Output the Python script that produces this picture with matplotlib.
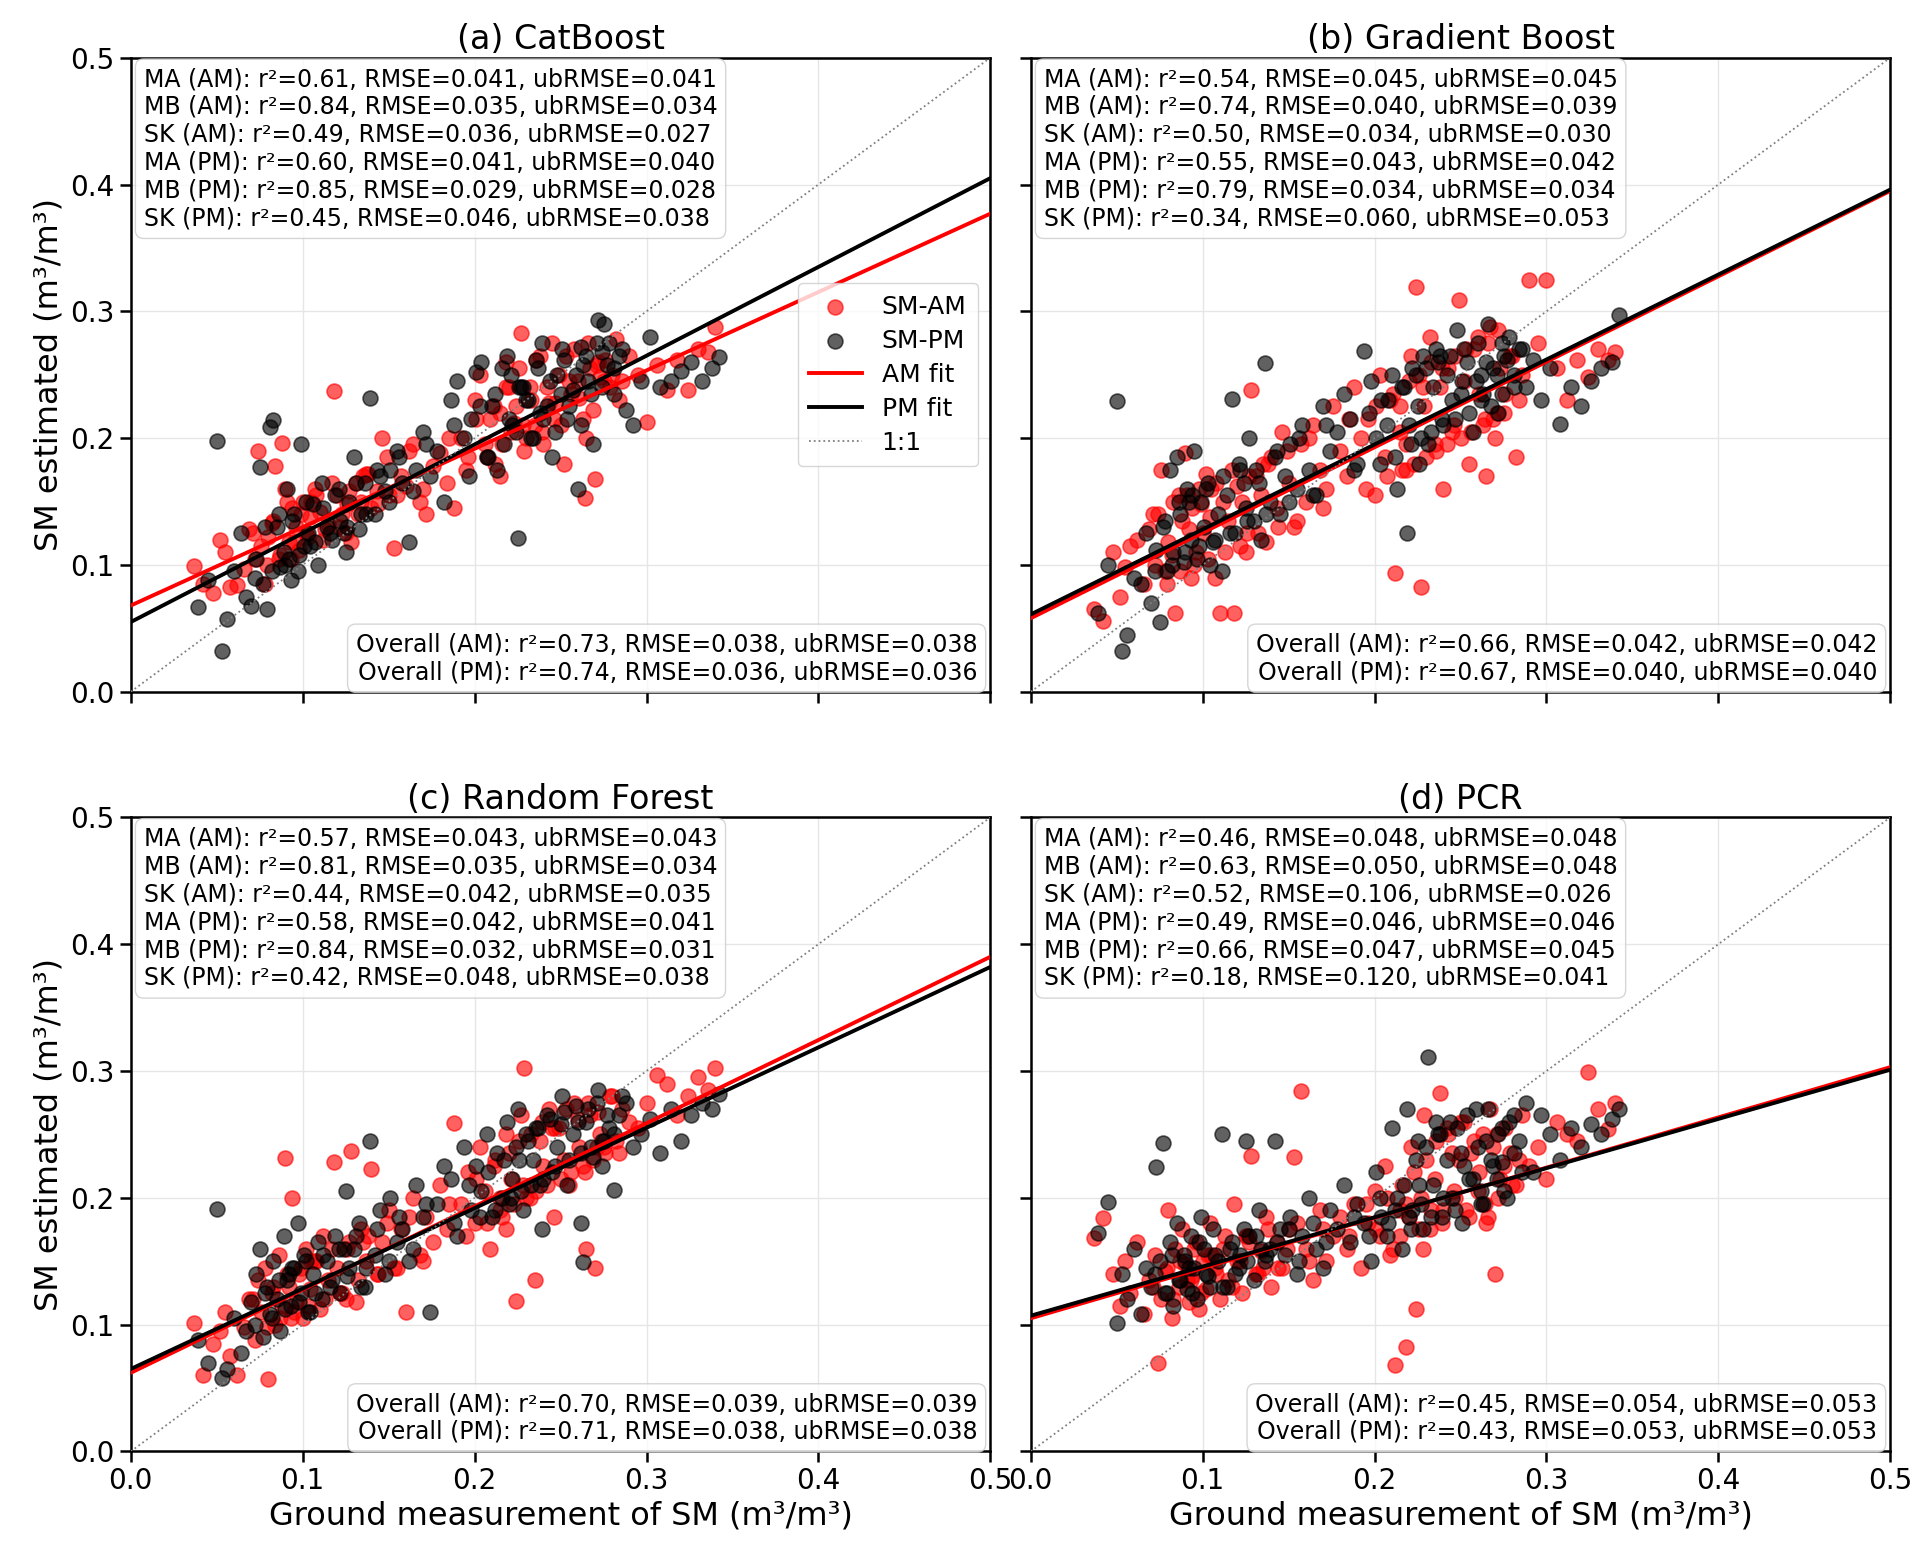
import numpy as np
import matplotlib.pyplot as plt

# ground measurement of SM (same stations for every model)
x_am = [
    0.037, 0.042, 0.048, 0.052, 0.055, 0.058, 0.062, 0.066, 0.069, 0.072,
    0.074, 0.076, 0.078, 0.080, 0.082, 0.084, 0.086, 0.088, 0.090, 0.092,
    0.094, 0.096, 0.098, 0.100, 0.102, 0.104, 0.107, 0.110, 0.112, 0.115,
    0.118, 0.120, 0.123, 0.126, 0.128, 0.131, 0.134, 0.137, 0.140, 0.143,
    0.146, 0.150, 0.153, 0.157, 0.160, 0.164, 0.168, 0.172, 0.176, 0.180,
    0.184, 0.188, 0.192, 0.196, 0.200, 0.203, 0.206, 0.209, 0.212, 0.215,
    0.218, 0.221, 0.224, 0.227, 0.229, 0.232, 0.235, 0.238, 0.240, 0.243,
    0.246, 0.249, 0.252, 0.255, 0.258, 0.261, 0.264, 0.267, 0.270, 0.273,
    0.276, 0.279, 0.282, 0.286, 0.290, 0.295, 0.300, 0.306, 0.312, 0.318,
    0.324, 0.330, 0.336, 0.340, 0.215, 0.218, 0.228, 0.245, 0.265, 0.271,
    0.071, 0.079, 0.083, 0.087, 0.091, 0.095, 0.099, 0.103, 0.108, 0.113,
    0.117, 0.122, 0.127, 0.132, 0.138, 0.144, 0.149, 0.155, 0.162, 0.170,
    0.185, 0.195, 0.201, 0.207, 0.211, 0.216, 0.220, 0.223, 0.226, 0.230,
    0.233, 0.236, 0.239, 0.242, 0.247, 0.250, 0.253, 0.256, 0.260, 0.263,
    0.266, 0.269, 0.272, 0.275, 0.280, 0.284, 0.093, 0.105, 0.125, 0.135]
x_pm = [
    0.039, 0.045, 0.050, 0.053, 0.056, 0.060, 0.064, 0.067, 0.070, 0.073,
    0.075, 0.077, 0.079, 0.081, 0.083, 0.085, 0.087, 0.089, 0.091, 0.093,
    0.095, 0.097, 0.099, 0.101, 0.103, 0.106, 0.109, 0.111, 0.114, 0.117,
    0.119, 0.122, 0.125, 0.127, 0.130, 0.133, 0.136, 0.139, 0.142, 0.145,
    0.148, 0.151, 0.155, 0.158, 0.162, 0.166, 0.170, 0.174, 0.178, 0.182,
    0.186, 0.190, 0.194, 0.198, 0.201, 0.204, 0.207, 0.210, 0.213, 0.216,
    0.219, 0.222, 0.225, 0.228, 0.231, 0.234, 0.236, 0.239, 0.242, 0.245,
    0.248, 0.251, 0.254, 0.257, 0.260, 0.263, 0.266, 0.269, 0.272, 0.275,
    0.278, 0.281, 0.284, 0.288, 0.292, 0.297, 0.302, 0.308, 0.314, 0.320,
    0.326, 0.332, 0.338, 0.342, 0.220, 0.226, 0.238, 0.250, 0.262, 0.274,
    0.072, 0.078, 0.082, 0.086, 0.090, 0.094, 0.098, 0.102, 0.107, 0.112,
    0.116, 0.121, 0.126, 0.131, 0.137, 0.143, 0.150, 0.156, 0.164, 0.172,
    0.188, 0.197, 0.203, 0.208, 0.212, 0.217, 0.221, 0.224, 0.227, 0.230,
    0.233, 0.237, 0.240, 0.244, 0.247, 0.252, 0.255, 0.259, 0.262, 0.265,
    0.268, 0.271, 0.274, 0.277, 0.281, 0.286, 0.092, 0.104, 0.124, 0.134]

# estimated SM, one array per model and overpass
cat_am = [
    0.099, 0.085, 0.078, 0.120, 0.110, 0.083, 0.084, 0.097, 0.128, 0.105,
    0.190, 0.115, 0.085, 0.122, 0.133, 0.178, 0.105, 0.196, 0.160, 0.118,
    0.145, 0.130, 0.112, 0.150, 0.125, 0.138, 0.160, 0.142, 0.120, 0.132,
    0.237, 0.155, 0.140, 0.148, 0.118, 0.165, 0.150, 0.172, 0.145, 0.158,
    0.200, 0.155, 0.113, 0.170, 0.162, 0.195, 0.150, 0.140, 0.178, 0.188,
    0.165, 0.145, 0.200, 0.185, 0.230, 0.250, 0.195, 0.215, 0.180, 0.170,
    0.260, 0.205, 0.225, 0.283, 0.190, 0.240, 0.210, 0.265, 0.195, 0.228,
    0.215, 0.250, 0.180, 0.245, 0.270, 0.232, 0.153, 0.255, 0.168, 0.248,
    0.262, 0.240, 0.278, 0.245, 0.265, 0.250, 0.213, 0.258, 0.238, 0.262,
    0.238, 0.270, 0.268, 0.288, 0.220, 0.240, 0.210, 0.275, 0.200, 0.258,
    0.125, 0.100, 0.135, 0.108, 0.150, 0.118, 0.140, 0.122, 0.155, 0.128,
    0.165, 0.130, 0.158, 0.140, 0.172, 0.148, 0.185, 0.155, 0.190, 0.160,
    0.200, 0.175, 0.215, 0.185, 0.225, 0.195, 0.240, 0.212, 0.255, 0.200,
    0.230, 0.262, 0.205, 0.240, 0.228, 0.210, 0.265, 0.235, 0.245, 0.215,
    0.275, 0.222, 0.260, 0.245, 0.250, 0.230, 0.105, 0.150, 0.125, 0.170]
cat_pm = [
    0.067, 0.088, 0.198, 0.032, 0.057, 0.095, 0.125, 0.075, 0.068, 0.105,
    0.177, 0.085, 0.065, 0.209, 0.214, 0.130, 0.098, 0.110, 0.160, 0.088,
    0.140, 0.095, 0.195, 0.115, 0.125, 0.148, 0.100, 0.165, 0.130, 0.120,
    0.155, 0.135, 0.110, 0.150, 0.185, 0.128, 0.165, 0.232, 0.140, 0.170,
    0.158, 0.175, 0.190, 0.165, 0.118, 0.175, 0.205, 0.170, 0.190, 0.150,
    0.230, 0.245, 0.200, 0.215, 0.252, 0.260, 0.185, 0.225, 0.175, 0.255,
    0.265, 0.210, 0.121, 0.240, 0.230, 0.200, 0.262, 0.275, 0.225, 0.185,
    0.250, 0.270, 0.215, 0.238, 0.160, 0.258, 0.245, 0.195, 0.293, 0.290,
    0.275, 0.255, 0.265, 0.222, 0.210, 0.245, 0.280, 0.240, 0.245, 0.253,
    0.260, 0.245, 0.255, 0.264, 0.215, 0.240, 0.220, 0.235, 0.272, 0.268,
    0.090, 0.130, 0.095, 0.140, 0.100, 0.135, 0.108, 0.150, 0.118, 0.145,
    0.125, 0.160, 0.130, 0.165, 0.140, 0.175, 0.150, 0.185, 0.158, 0.195,
    0.210, 0.170, 0.225, 0.185, 0.235, 0.195, 0.250, 0.205, 0.240, 0.230,
    0.200, 0.255, 0.215, 0.245, 0.205, 0.262, 0.225, 0.250, 0.210, 0.265,
    0.235, 0.275, 0.240, 0.258, 0.235, 0.270, 0.105, 0.115, 0.125, 0.140]
gb_am = [
    0.065, 0.056, 0.110, 0.075, 0.098, 0.115, 0.120, 0.085, 0.128, 0.100,
    0.140, 0.175, 0.095, 0.118, 0.108, 0.062, 0.155, 0.135, 0.188, 0.128,
    0.145, 0.110, 0.160, 0.125, 0.172, 0.138, 0.090, 0.062, 0.150, 0.135,
    0.062, 0.162, 0.150, 0.125, 0.238, 0.170, 0.155, 0.118, 0.185, 0.145,
    0.205, 0.165, 0.130, 0.195, 0.150, 0.210, 0.175, 0.160, 0.225, 0.190,
    0.170, 0.240, 0.200, 0.215, 0.155, 0.250, 0.185, 0.230, 0.094, 0.205,
    0.175, 0.265, 0.319, 0.083, 0.225, 0.280, 0.195, 0.240, 0.160, 0.255,
    0.210, 0.309, 0.245, 0.180, 0.270, 0.235, 0.215, 0.288, 0.200, 0.255,
    0.235, 0.265, 0.185, 0.250, 0.325, 0.275, 0.325, 0.255, 0.230, 0.262,
    0.248, 0.270, 0.262, 0.268, 0.225, 0.195, 0.240, 0.205, 0.170, 0.220,
    0.140, 0.085, 0.150, 0.095, 0.155, 0.100, 0.148, 0.105, 0.165, 0.110,
    0.175, 0.115, 0.170, 0.125, 0.180, 0.130, 0.190, 0.135, 0.200, 0.145,
    0.215, 0.160, 0.225, 0.170, 0.235, 0.175, 0.245, 0.180, 0.250, 0.185,
    0.260, 0.190, 0.255, 0.195, 0.265, 0.200, 0.270, 0.205, 0.280, 0.210,
    0.275, 0.215, 0.285, 0.220, 0.265, 0.230, 0.090, 0.160, 0.110, 0.180]
gb_pm = [
    0.062, 0.100, 0.229, 0.032, 0.045, 0.090, 0.085, 0.125, 0.070, 0.112,
    0.055, 0.130, 0.095, 0.175, 0.110, 0.185, 0.140, 0.102, 0.160, 0.120,
    0.190, 0.105, 0.150, 0.130, 0.165, 0.118, 0.140, 0.095, 0.155, 0.231,
    0.125, 0.175, 0.145, 0.200, 0.135, 0.165, 0.259, 0.150, 0.185, 0.140,
    0.170, 0.195, 0.160, 0.210, 0.175, 0.155, 0.225, 0.190, 0.205, 0.235,
    0.215, 0.180, 0.269, 0.245, 0.200, 0.230, 0.210, 0.250, 0.160, 0.240,
    0.125, 0.255, 0.225, 0.265, 0.195, 0.240, 0.270, 0.215, 0.250, 0.230,
    0.285, 0.245, 0.260, 0.205, 0.275, 0.235, 0.290, 0.255, 0.220, 0.265,
    0.280, 0.250, 0.270, 0.240, 0.262, 0.230, 0.255, 0.211, 0.240, 0.225,
    0.245, 0.255, 0.260, 0.297, 0.210, 0.180, 0.265, 0.235, 0.250, 0.275,
    0.095, 0.135, 0.100, 0.150, 0.110, 0.155, 0.115, 0.160, 0.120, 0.170,
    0.125, 0.180, 0.135, 0.175, 0.140, 0.190, 0.150, 0.200, 0.155, 0.210,
    0.175, 0.220, 0.180, 0.230, 0.185, 0.240, 0.195, 0.250, 0.200, 0.255,
    0.205, 0.260, 0.210, 0.265, 0.215, 0.270, 0.220, 0.245, 0.230, 0.260,
    0.225, 0.250, 0.235, 0.262, 0.240, 0.270, 0.150, 0.100, 0.165, 0.120]
rf_am = [
    0.101, 0.060, 0.085, 0.095, 0.110, 0.075, 0.060, 0.098, 0.120, 0.088,
    0.135, 0.110, 0.145, 0.057, 0.125, 0.100, 0.155, 0.115, 0.231, 0.130,
    0.200, 0.118, 0.140, 0.105, 0.160, 0.128, 0.150, 0.112, 0.170, 0.135,
    0.228, 0.145, 0.125, 0.160, 0.237, 0.118, 0.175, 0.150, 0.223, 0.140,
    0.165, 0.190, 0.145, 0.175, 0.110, 0.200, 0.155, 0.185, 0.165, 0.210,
    0.175, 0.259, 0.195, 0.220, 0.180, 0.240, 0.205, 0.160, 0.230, 0.190,
    0.250, 0.215, 0.119, 0.265, 0.302, 0.200, 0.135, 0.245, 0.225, 0.270,
    0.185, 0.255, 0.230, 0.210, 0.275, 0.240, 0.220, 0.265, 0.145, 0.250,
    0.235, 0.280, 0.245, 0.270, 0.260, 0.255, 0.275, 0.297, 0.290, 0.265,
    0.280, 0.295, 0.285, 0.302, 0.200, 0.175, 0.210, 0.255, 0.160, 0.240,
    0.120, 0.098, 0.130, 0.105, 0.140, 0.110, 0.145, 0.115, 0.150, 0.120,
    0.160, 0.125, 0.165, 0.135, 0.170, 0.140, 0.180, 0.145, 0.185, 0.150,
    0.195, 0.170, 0.215, 0.180, 0.225, 0.185, 0.235, 0.195, 0.245, 0.200,
    0.250, 0.205, 0.260, 0.210, 0.255, 0.215, 0.270, 0.220, 0.262, 0.225,
    0.275, 0.230, 0.268, 0.240, 0.280, 0.235, 0.105, 0.150, 0.120, 0.165]
rf_pm = [
    0.088, 0.070, 0.191, 0.058, 0.065, 0.105, 0.078, 0.095, 0.118, 0.140,
    0.160, 0.090, 0.130, 0.108, 0.150, 0.120, 0.095, 0.170, 0.135, 0.115,
    0.145, 0.180, 0.125, 0.155, 0.110, 0.140, 0.165, 0.120, 0.150, 0.135,
    0.170, 0.125, 0.205, 0.145, 0.160, 0.180, 0.130, 0.245, 0.155, 0.190,
    0.140, 0.200, 0.165, 0.175, 0.150, 0.210, 0.185, 0.110, 0.195, 0.225,
    0.215, 0.170, 0.240, 0.190, 0.225, 0.205, 0.250, 0.185, 0.235, 0.200,
    0.260, 0.215, 0.270, 0.190, 0.245, 0.230, 0.255, 0.175, 0.265, 0.220,
    0.240, 0.280, 0.210, 0.250, 0.260, 0.149, 0.270, 0.232, 0.285, 0.245,
    0.255, 0.206, 0.265, 0.275, 0.240, 0.250, 0.262, 0.235, 0.270, 0.245,
    0.265, 0.275, 0.270, 0.282, 0.195, 0.230, 0.210, 0.258, 0.180, 0.225,
    0.100, 0.125, 0.105, 0.135, 0.112, 0.145, 0.118, 0.150, 0.125, 0.155,
    0.130, 0.160, 0.138, 0.170, 0.145, 0.175, 0.150, 0.185, 0.160, 0.195,
    0.180, 0.210, 0.185, 0.220, 0.190, 0.230, 0.200, 0.240, 0.205, 0.250,
    0.210, 0.255, 0.215, 0.262, 0.225, 0.268, 0.230, 0.272, 0.235, 0.260,
    0.240, 0.275, 0.245, 0.265, 0.250, 0.280, 0.140, 0.110, 0.160, 0.130]
pcr_am = [
    0.168, 0.184, 0.140, 0.115, 0.150, 0.125, 0.165, 0.108, 0.135, 0.155,
    0.070, 0.120, 0.142, 0.190, 0.105, 0.160, 0.130, 0.175, 0.148, 0.118,
    0.138, 0.165, 0.112, 0.150, 0.128, 0.180, 0.145, 0.120, 0.160, 0.135,
    0.195, 0.150, 0.125, 0.170, 0.233, 0.140, 0.158, 0.185, 0.130, 0.165,
    0.145, 0.175, 0.232, 0.284, 0.160, 0.135, 0.190, 0.150, 0.170, 0.185,
    0.160, 0.195, 0.145, 0.180, 0.205, 0.170, 0.225, 0.155, 0.068, 0.190,
    0.082, 0.240, 0.112, 0.200, 0.265, 0.175, 0.215, 0.283, 0.190, 0.250,
    0.205, 0.230, 0.260, 0.185, 0.245, 0.220, 0.195, 0.270, 0.140, 0.215,
    0.255, 0.235, 0.210, 0.265, 0.225, 0.240, 0.215, 0.260, 0.250, 0.245,
    0.299, 0.270, 0.254, 0.275, 0.170, 0.195, 0.160, 0.235, 0.180, 0.250,
    0.130, 0.145, 0.120, 0.150, 0.135, 0.160, 0.125, 0.155, 0.140, 0.170,
    0.130, 0.150, 0.165, 0.140, 0.175, 0.145, 0.160, 0.180, 0.150, 0.175,
    0.170, 0.195, 0.175, 0.200, 0.160, 0.210, 0.185, 0.220, 0.175, 0.230,
    0.190, 0.245, 0.180, 0.255, 0.200, 0.260, 0.190, 0.235, 0.205, 0.250,
    0.185, 0.240, 0.200, 0.225, 0.210, 0.230, 0.135, 0.155, 0.170, 0.145]
pcr_pm = [
    0.172, 0.197, 0.101, 0.140, 0.120, 0.160, 0.108, 0.145, 0.130, 0.224,
    0.150, 0.243, 0.125, 0.165, 0.115, 0.180, 0.135, 0.155, 0.128, 0.170,
    0.145, 0.120, 0.185, 0.160, 0.138, 0.175, 0.150, 0.250, 0.130, 0.165,
    0.140, 0.155, 0.245, 0.170, 0.135, 0.190, 0.150, 0.160, 0.245, 0.175,
    0.155, 0.185, 0.140, 0.170, 0.200, 0.160, 0.145, 0.190, 0.175, 0.210,
    0.165, 0.195, 0.180, 0.150, 0.220, 0.185, 0.170, 0.255, 0.200, 0.160,
    0.270, 0.190, 0.245, 0.175, 0.311, 0.210, 0.260, 0.185, 0.230, 0.200,
    0.255, 0.180, 0.265, 0.215, 0.240, 0.195, 0.270, 0.225, 0.250, 0.205,
    0.260, 0.235, 0.245, 0.275, 0.220, 0.265, 0.250, 0.230, 0.255, 0.240,
    0.258, 0.250, 0.262, 0.270, 0.185, 0.210, 0.250, 0.235, 0.195, 0.228,
    0.140, 0.125, 0.155, 0.135, 0.150, 0.125, 0.165, 0.140, 0.155, 0.130,
    0.160, 0.145, 0.150, 0.170, 0.155, 0.165, 0.175, 0.150, 0.180, 0.165,
    0.185, 0.170, 0.200, 0.180, 0.190, 0.210, 0.175, 0.230, 0.195, 0.240,
    0.185, 0.250, 0.200, 0.260, 0.190, 0.225, 0.215, 0.270, 0.205, 0.245,
    0.230, 0.215, 0.255, 0.200, 0.265, 0.220, 0.145, 0.130, 0.175, 0.160]

# fitted lines, estimated value at x=0 and x=0.5
fit_am = [[0.068, 0.377], [0.058, 0.395], [0.062, 0.390], [0.105, 0.303]]
fit_pm = [[0.055, 0.405], [0.061, 0.396], [0.065, 0.382], [0.107, 0.301]]

titles = ['(a) CatBoost', '(b) Gradient Boost', '(c) Random Forest', '(d) PCR']

site_stats = [
    ['MA (AM): r\u00b2=0.61, RMSE=0.041, ubRMSE=0.041',
     'MB (AM): r\u00b2=0.84, RMSE=0.035, ubRMSE=0.034',
     'SK (AM): r\u00b2=0.49, RMSE=0.036, ubRMSE=0.027',
     'MA (PM): r\u00b2=0.60, RMSE=0.041, ubRMSE=0.040',
     'MB (PM): r\u00b2=0.85, RMSE=0.029, ubRMSE=0.028',
     'SK (PM): r\u00b2=0.45, RMSE=0.046, ubRMSE=0.038'],
    ['MA (AM): r\u00b2=0.54, RMSE=0.045, ubRMSE=0.045',
     'MB (AM): r\u00b2=0.74, RMSE=0.040, ubRMSE=0.039',
     'SK (AM): r\u00b2=0.50, RMSE=0.034, ubRMSE=0.030',
     'MA (PM): r\u00b2=0.55, RMSE=0.043, ubRMSE=0.042',
     'MB (PM): r\u00b2=0.79, RMSE=0.034, ubRMSE=0.034',
     'SK (PM): r\u00b2=0.34, RMSE=0.060, ubRMSE=0.053'],
    ['MA (AM): r\u00b2=0.57, RMSE=0.043, ubRMSE=0.043',
     'MB (AM): r\u00b2=0.81, RMSE=0.035, ubRMSE=0.034',
     'SK (AM): r\u00b2=0.44, RMSE=0.042, ubRMSE=0.035',
     'MA (PM): r\u00b2=0.58, RMSE=0.042, ubRMSE=0.041',
     'MB (PM): r\u00b2=0.84, RMSE=0.032, ubRMSE=0.031',
     'SK (PM): r\u00b2=0.42, RMSE=0.048, ubRMSE=0.038'],
    ['MA (AM): r\u00b2=0.46, RMSE=0.048, ubRMSE=0.048',
     'MB (AM): r\u00b2=0.63, RMSE=0.050, ubRMSE=0.048',
     'SK (AM): r\u00b2=0.52, RMSE=0.106, ubRMSE=0.026',
     'MA (PM): r\u00b2=0.49, RMSE=0.046, ubRMSE=0.046',
     'MB (PM): r\u00b2=0.66, RMSE=0.047, ubRMSE=0.045',
     'SK (PM): r\u00b2=0.18, RMSE=0.120, ubRMSE=0.041'],
]
overall_stats = [
    ['Overall (AM): r\u00b2=0.73, RMSE=0.038, ubRMSE=0.038',
     'Overall (PM): r\u00b2=0.74, RMSE=0.036, ubRMSE=0.036'],
    ['Overall (AM): r\u00b2=0.66, RMSE=0.042, ubRMSE=0.042',
     'Overall (PM): r\u00b2=0.67, RMSE=0.040, ubRMSE=0.040'],
    ['Overall (AM): r\u00b2=0.70, RMSE=0.039, ubRMSE=0.039',
     'Overall (PM): r\u00b2=0.71, RMSE=0.038, ubRMSE=0.038'],
    ['Overall (AM): r\u00b2=0.45, RMSE=0.054, ubRMSE=0.053',
     'Overall (PM): r\u00b2=0.43, RMSE=0.053, ubRMSE=0.053'],
]

est_am = [cat_am, gb_am, rf_am, pcr_am]
est_pm = [cat_pm, gb_pm, rf_pm, pcr_pm]

fig, axes = plt.subplots(2, 2, figsize=(19.23, 15.59), dpi=100,
                         sharex=True, sharey=True)
fig.subplots_adjust(left=0.068, right=0.983, top=0.963, bottom=0.069,
                    wspace=0.047, hspace=0.198)

box = dict(boxstyle='round,pad=0.35', facecolor='white',
           edgecolor='0.8', alpha=0.8)
line_x = [0.0, 0.5]

for i, ax in enumerate(axes.flat):
    ax.scatter(x_am, est_am[i], s=115, c='red', alpha=0.62,
               linewidths=1.2, zorder=2, label='SM-AM')
    ax.scatter(x_pm, est_pm[i], s=115, c='black', alpha=0.62,
               linewidths=1.2, zorder=2, label='SM-PM')
    ax.plot(line_x, fit_am[i], color='red', lw=2.8, zorder=3, label='AM fit')
    ax.plot(line_x, fit_pm[i], color='black', lw=2.8, zorder=3, label='PM fit')
    ax.plot(line_x, line_x, color='grey', ls=':', lw=1.3, zorder=3, label='1:1')

    ax.set_xlim(0, 0.5)
    ax.set_ylim(0, 0.5)
    ax.set_xticks(np.arange(0, 0.51, 0.1))
    ax.set_yticks(np.arange(0, 0.51, 0.1))
    ax.grid(True, color='#e6e6e6', lw=1.0, zorder=0)
    ax.set_axisbelow(True)
    ax.tick_params(labelsize=20, length=8, width=1.8)
    for sp in ax.spines.values():
        sp.set_linewidth(1.8)
    ax.set_title(titles[i], fontsize=24)

    ax.text(0.015, 0.985, '\n'.join(site_stats[i]), transform=ax.transAxes,
            ha='left', va='top', fontsize=17, bbox=box, zorder=5)
    ax.text(0.985, 0.012, '\n'.join(overall_stats[i]), transform=ax.transAxes,
            ha='right', va='bottom', fontsize=17, multialignment='right',
            bbox=box, zorder=5)

    if i % 2 == 0:
        ax.set_ylabel('SM estimated (m\u00b3/m\u00b3)', fontsize=23)
    if i >= 2:
        ax.set_xlabel('Ground measurement of SM (m\u00b3/m\u00b3)', fontsize=23)

axes[0, 0].legend(loc='center right', fontsize=18, framealpha=0.8,
                  handlelength=2.1, borderpad=0.45, labelspacing=0.4)

plt.savefig('out.png', dpi=100)
